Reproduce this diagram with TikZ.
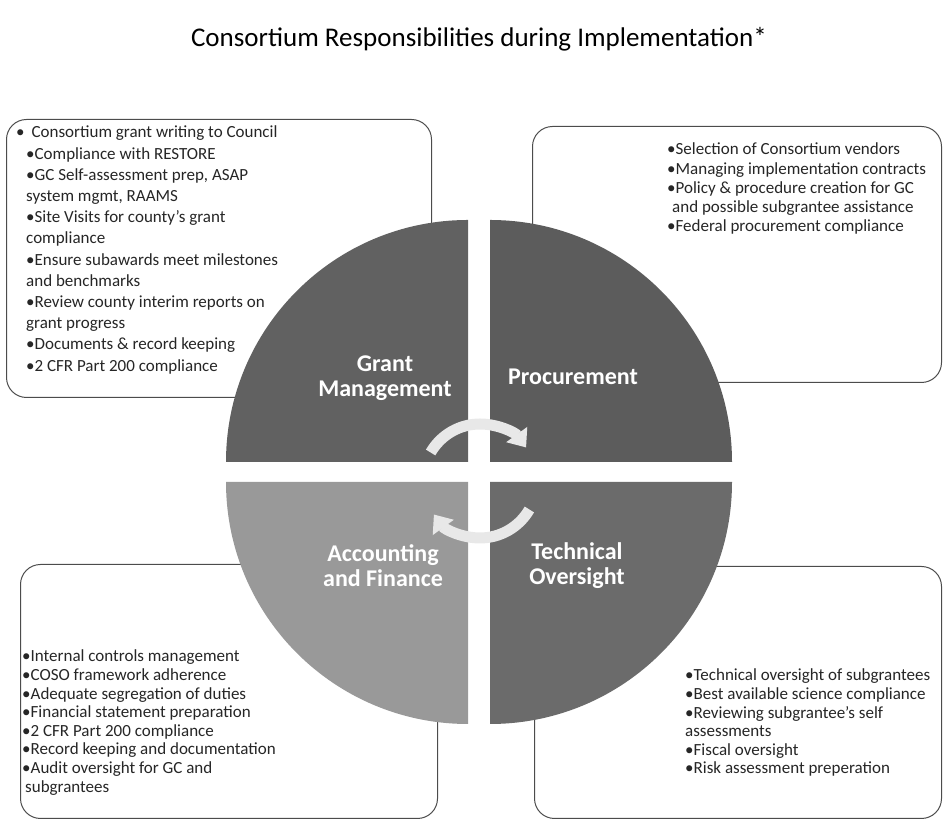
\documentclass[tikz,border=0pt]{standalone}
\usepackage{fontspec}
\setmainfont{Carlito}
\usetikzlibrary{arrows.meta}
\tikzset{
  infobox/.style={draw=black!70, line width=1pt, rounded corners=20pt, fill=white, inner sep=0pt},
  itemtext/.style={anchor=north west, inner sep=0pt, align=left, text=black!85, font=\fontsize{17}{18.6}\selectfont},
  quadlabel/.style={text=white, align=center, inner sep=0pt, font=\fontsize{24}{25}\selectfont\bfseries},
  cyclearrow/.style={draw=black!9, line width=11pt, -{Triangle[width=25pt,length=16pt]}}
}
\begin{document}
\begin{tikzpicture}[x=1pt,y=1pt]
  \useasboundingbox (0,0) rectangle (943,821);
  % title
  \node (title) at (479,782) {\fontsize{27}{29}\selectfont Consortium Responsibilities during Implementation*};

  % text boxes behind the circle
  \node[infobox, anchor=south west, minimum width=425pt, minimum height=278pt] (grantbox) at (6,423) {};
  \node[infobox, anchor=south west, minimum width=409pt, minimum height=256pt] (procbox) at (532,438) {};
  \node[infobox, anchor=south west, minimum width=417pt, minimum height=254pt] (acctbox) at (20,2) {};
  \node[infobox, anchor=south west, minimum width=407pt, minimum height=252pt] (techbox) at (534,2) {};

  \node[itemtext, font=\fontsize{17}{21.2}\selectfont] (granttext) at (26,695) {%
    \hspace*{-10pt}•\hspace{7pt}Consortium grant writing to Council\\
    •Compliance with RESTORE\\
    •GC Self-assessment prep, ASAP\\
    system mgmt, RAAMS\\
    •Site Visits for county's grant\\
    compliance\\
    •Ensure subawards meet milestones\\
    and benchmarks\\
    •Review county interim reports on\\
    grant progress\\
    •Documents \& record keeping\\
    •2 CFR Part 200 compliance};
  \node[itemtext, font=\fontsize{17}{19.2}\selectfont] (proctext) at (667,678) {%
    •Selection of Consortium vendors\\
    •Managing implementation contracts\\
    •Policy \& procedure creation for GC\\
    \hspace*{5pt}and possible subgrantee assistance\\
    •Federal procurement compliance};
  \node[itemtext] (accttext) at (22,171) {%
    •Internal controls management\\
    •COSO framework adherence\\
    •Adequate segregation of duties\\
    •Financial statement preparation\\
    •2 CFR Part 200 compliance\\
    •Record keeping and documentation\\
    •Audit oversight for GC and\\
    \hspace*{3pt}subgrantees};
  \node[itemtext] (techtext) at (685,152) {%
    •Technical oversight of subgrantees\\
    •Best available science compliance\\
    •Reviewing subgrantee's self\\
    assessments\\
    •Fiscal oversight\\
    •Risk assessment preperation};

  % circle in four quarters
  \fill[black!62] (468,359) -- (226,359) arc[start angle=180, end angle=90, radius=242] -- cycle;
  \fill[black!64] (490,359) -- (490,601) arc[start angle=90, end angle=0, radius=242] -- cycle;
  \fill[black!40] (468,339) -- (468,97) arc[start angle=270, end angle=180, radius=242] -- cycle;
  \fill[black!58] (490,339) -- (732,339) arc[start angle=0, end angle=-90, radius=242] -- cycle;

  \node[quadlabel] (grant) at (385,443) {Grant\\Management};
  \node[quadlabel] (proc) at (573,444) {Procurement};
  \node[quadlabel] (acct) at (383,255) {Accounting\\and Finance};
  \node[quadlabel] (tech) at (577,255) {Technical\\Oversight};

  % cycle arrows
  \coordinate (hub) at (480,340);
  \draw[cyclearrow] ([shift={(150:57)}]hub) arc[start angle=150, end angle=36, radius=57];
  \draw[cyclearrow] ([shift={(-30:57)}]hub) arc[start angle=-30, end angle=-144, radius=57];
\end{tikzpicture}
\end{document}
